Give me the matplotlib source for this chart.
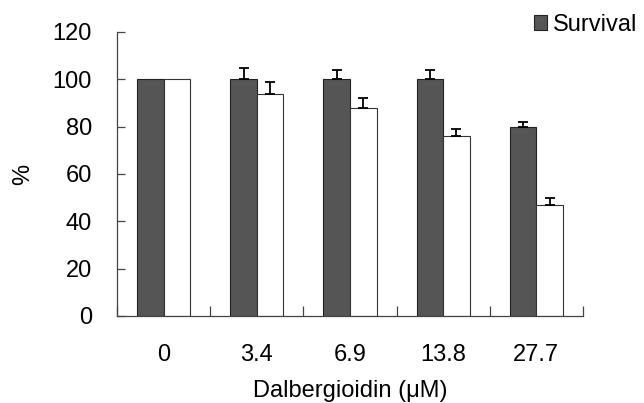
import matplotlib
matplotlib.use("Agg")
import matplotlib.pyplot as plt
import numpy as np
from matplotlib.patches import Patch

plt.rcParams['font.family'] = ['Liberation Sans', 'DejaVu Sans']

categories = ["0", "3.4", "6.9", "13.8", "27.7"]
survival = [100, 100, 100, 100, 80]
survival_err = [0, 5, 4, 4, 2]
second = [100, 94, 88, 76, 47]
second_err = [0, 5, 4, 3, 3]
yticks = [0, 20, 40, 60, 80, 100, 120]

FS = 17
fig = plt.figure(figsize=(6.44, 4.03), dpi=100)
ax = fig.add_axes([117/644, 1-316/403, (583-117)/644, (316-32)/403])

x = np.arange(len(categories))
w = 0.285
dark = "#555555"
ax.bar(x - w/2, survival, w, color=dark, edgecolor="#222222", linewidth=0.8, zorder=2)
ax.bar(x + w/2, second, w, color="white", edgecolor="#333333", linewidth=0.8, zorder=2)

for offs, vals, errs in [(-w/2, survival, survival_err), (w/2, second, second_err)]:
    idx = [i for i, e in enumerate(errs) if e > 0]
    ax.errorbar(x[idx] + offs, [vals[i] for i in idx],
                yerr=[np.zeros(len(idx)), [errs[i] for i in idx]], fmt="none",
                ecolor="black", elinewidth=1.3, capsize=3.5, capthick=1.3, zorder=3)

ax.set_xlim(-0.5, len(categories) - 0.5)
ax.set_ylim(0, 120)
ax.set_yticks(yticks)
ax.set_yticklabels([str(v) for v in yticks], fontsize=FS)
ax.set_xticks(x)
ax.set_xticklabels(categories, fontsize=FS)
ax.set_xticks(np.arange(len(categories) + 1) - 0.5, minor=True)
ax.tick_params(axis="x", which="major", length=0, pad=20)
ax.tick_params(axis="x", which="minor", direction="in", length=7, width=0.9, color="#444444")
ax.tick_params(axis="y", direction="in", length=6, width=0.9, color="#444444", pad=18)

for s in ["top", "right"]:
    ax.spines[s].set_visible(False)
for s in ["left", "bottom"]:
    ax.spines[s].set_color("#444444")
    ax.spines[s].set_linewidth(0.9)

ax.set_ylabel("%", fontsize=FS, labelpad=13)
ax.set_xlabel("Dalbergioidin (\u03bcM)", fontsize=FS, labelpad=10)

fig.legend(handles=[Patch(facecolor=dark, edgecolor="#222222", linewidth=0.8, label="Survival")],
           loc="upper left", bbox_to_anchor=(534/644, 1 - 14/403), frameon=False,
           fontsize=FS, handlelength=0.55, handleheight=0.6, handletextpad=0.25,
           borderaxespad=0, borderpad=0)

fig.savefig("out.png", dpi=100, facecolor="white")
